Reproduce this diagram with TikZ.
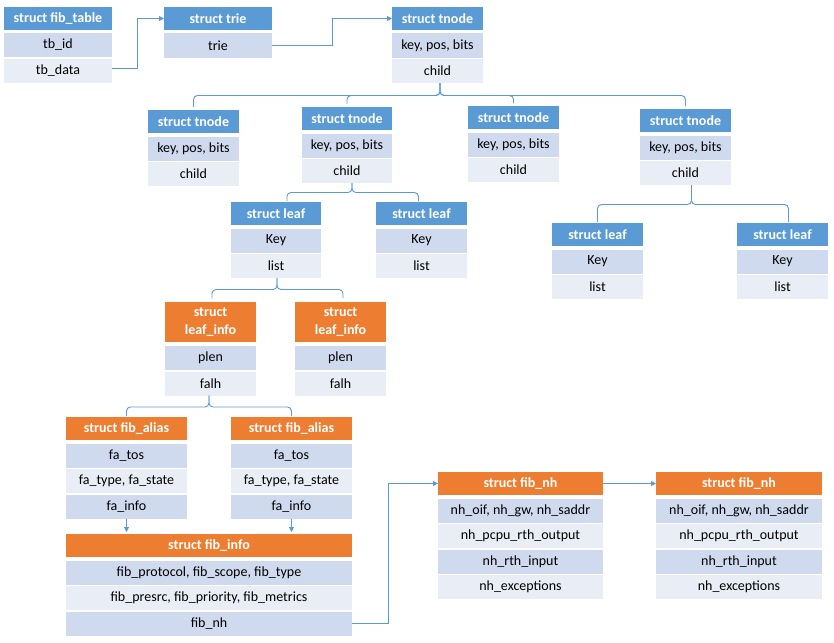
\documentclass[tikz,border=0pt]{standalone}
\usepackage{fontspec}
\setmainfont{Carlito}
\usetikzlibrary{arrows.meta}
\definecolor{cblue}{HTML}{5B9BD5}
\definecolor{corange}{HTML}{ED7D31}
\definecolor{rowd}{HTML}{D0DAEE}
\definecolor{rowl}{HTML}{E9EEF6}
\definecolor{cline}{HTML}{5B9BD5}
\begin{document}
\begin{tikzpicture}[x=1pt,y=-1pt,
  cellbase/.style={anchor=north west, inner sep=0pt, outer sep=0pt, font=\fontsize{14}{16}\selectfont, text=black},
  wd/.style={minimum width=#1pt},
  hb/.style={cellbase, fill=cblue, text=white, font=\bfseries\fontsize{14}{16}\selectfont, minimum height=23pt},
  ho/.style={cellbase, fill=corange, text=white, font=\bfseries\fontsize{14}{16}\selectfont, minimum height=23pt},
  ho2/.style={cellbase, fill=corange, text=white, font=\bfseries\fontsize{14}{18}\selectfont, minimum height=40pt, align=center},
  rd/.style={cellbase, fill=rowd, minimum height=24pt},
  rl/.style={cellbase, fill=rowl, minimum height=24pt},
  conn/.style={draw=cline, line width=0.9pt},
  arr/.style={conn, -{Triangle[length=5pt,width=5pt]}},
  brace/.style={conn, rounded corners=4pt}
]
\useasboundingbox (0,0) rectangle (834,642);
\fill[white] (0,0) rectangle (834,642);

% struct fib_table
\node[hb, wd=108] (fth) at (4,7) {struct fib\_table};
\node[rd, wd=108] (ft1) at ([yshift=-3pt]fth.south west) {tb\_id};
\node[rl, wd=108] (ft2) at ([yshift=-1.5pt]ft1.south west) {tb\_data};

% struct trie
\node[hb, wd=108] (trh) at (164,7) {struct trie};
\node[rd, wd=108] (tr1) at ([yshift=-3.5pt]trh.south west) {trie};

% top tnode
\node[hb, wd=91] (t0h) at (392,7) {struct tnode};
\node[rd, wd=91] (t01) at ([yshift=-3.5pt]t0h.south west) {key, pos, bits};
\node[rl, wd=91] (t0c) at ([yshift=-1.5pt]t01.south west) {child};

% second-level tnodes
\node[hb, wd=91] (tah) at (148,110) {struct tnode};
\node[rd, wd=91] (ta1) at ([yshift=-3.5pt]tah.south west) {key, pos, bits};
\node[rl, wd=91] (tac) at ([yshift=-1.5pt]ta1.south west) {child};

\node[hb, wd=90] (tbh) at (302,107) {struct tnode};
\node[rd, wd=90] (tb1) at ([yshift=-3.5pt]tbh.south west) {key, pos, bits};
\node[rl, wd=90] (tbc) at ([yshift=-1.5pt]tb1.south west) {child};

\node[hb, wd=91] (tch) at (468,106) {struct tnode};
\node[rd, wd=91] (tc1) at ([yshift=-3.5pt]tch.south west) {key, pos, bits};
\node[rl, wd=91] (tcc) at ([yshift=-1.5pt]tc1.south west) {child};

\node[hb, wd=91] (tdh) at (640,109) {struct tnode};
\node[rd, wd=91] (td1) at ([yshift=-3.5pt]tdh.south west) {key, pos, bits};
\node[rl, wd=91] (tdc) at ([yshift=-1.5pt]td1.south west) {child};

% leaves
\node[hb, wd=90] (l1h) at (231,202) {struct leaf};
\node[rd, wd=90] (l11) at ([yshift=-3.5pt]l1h.south west) {Key};
\node[rl, wd=90] (l1c) at ([yshift=-1.5pt]l11.south west) {list};

\node[hb, wd=91] (l2h) at (376,202) {struct leaf};
\node[rd, wd=91] (l21) at ([yshift=-3.5pt]l2h.south west) {Key};
\node[rl, wd=91] (l2c) at ([yshift=-1.5pt]l21.south west) {list};

\node[hb, wd=91] (l3h) at (552,223) {struct leaf};
\node[rd, wd=91] (l31) at ([yshift=-3.5pt]l3h.south west) {Key};
\node[rl, wd=91] (l3c) at ([yshift=-1.5pt]l31.south west) {list};

\node[hb, wd=91] (l4h) at (737,223) {struct leaf};
\node[rd, wd=91] (l41) at ([yshift=-3.5pt]l4h.south west) {Key};
\node[rl, wd=91] (l4c) at ([yshift=-1.5pt]l41.south west) {list};

% leaf_info
\node[ho2, wd=91] (i1h) at (165,302) {struct\\leaf\_info};
\node[rd, wd=91] (i11) at ([yshift=-4pt]i1h.south west) {plen};
\node[rl, wd=91] (i1c) at ([yshift=-1.5pt]i11.south west) {falh};

\node[ho2, wd=91] (i2h) at (295,302) {struct\\leaf\_info};
\node[rd, wd=91] (i21) at ([yshift=-4pt]i2h.south west) {plen};
\node[rl, wd=91] (i2c) at ([yshift=-1.5pt]i21.south west) {falh};

% fib_alias
\node[ho, wd=121] (a1h) at (66,417) {struct fib\_alias};
\node[rd, wd=121] (a11) at ([yshift=-3.5pt]a1h.south west) {fa\_tos};
\node[rl, wd=121] (a12) at ([yshift=-1.5pt]a11.south west) {fa\_type, fa\_state};
\node[rd, wd=121] (a13) at ([yshift=-1.5pt]a12.south west) {fa\_info};

\node[ho, wd=121] (a2h) at (231,417) {struct fib\_alias};
\node[rd, wd=121] (a21) at ([yshift=-3.5pt]a2h.south west) {fa\_tos};
\node[rl, wd=121] (a22) at ([yshift=-1.5pt]a21.south west) {fa\_type, fa\_state};
\node[rd, wd=121] (a23) at ([yshift=-1.5pt]a22.south west) {fa\_info};

% fib_info
\node[ho, wd=286] (fih) at (66,534) {struct fib\_info};
\node[rd, wd=286] (fi1) at ([yshift=-3.5pt]fih.south west) {fib\_protocol, fib\_scope, fib\_type};
\node[rl, wd=286] (fi2) at ([yshift=-1.5pt]fi1.south west) {fib\_presrc, fib\_priority, fib\_metrics};
\node[rd, wd=286] (fi3) at ([yshift=-1.5pt]fi2.south west) {fib\_nh};

% fib_nh
\node[ho, wd=165] (n1h) at (438,472) {struct fib\_nh};
\node[rd, wd=165] (n11) at ([yshift=-3.5pt]n1h.south west) {nh\_oif, nh\_gw, nh\_saddr};
\node[rl, wd=165] (n12) at ([yshift=-1.5pt]n11.south west) {nh\_pcpu\_rth\_output};
\node[rd, wd=165] (n13) at ([yshift=-1.5pt]n12.south west) {nh\_rth\_input};
\node[rl, wd=165] (n14) at ([yshift=-1.5pt]n13.south west) {nh\_exceptions};

\node[ho, wd=166] (n2h) at (656,472) {struct fib\_nh};
\node[rd, wd=166] (n21) at ([yshift=-3.5pt]n2h.south west) {nh\_oif, nh\_gw, nh\_saddr};
\node[rl, wd=166] (n22) at ([yshift=-1.5pt]n21.south west) {nh\_pcpu\_rth\_output};
\node[rd, wd=166] (n23) at ([yshift=-1.5pt]n22.south west) {nh\_rth\_input};
\node[rl, wd=166] (n24) at ([yshift=-1.5pt]n23.south west) {nh\_exceptions};

% arrows between top tables
\draw[arr] ([yshift=2pt]ft2.east) -- ++(25,0) |- (trh.west);
\draw[arr] (tr1.east) -- ++(60,0) |- (t0h.west);

% brace from top tnode
\foreach \c in {tah,tbh,tch,tdh}
  \draw[brace] ([xshift=2.5pt]t0c.south) -- ++(0,12.5) -| ([yshift=3pt]\c.north);

% braces to leaves
\draw[brace] ([xshift=5pt]tbc.south) -- ++(0,9.5) -| ([xshift=11pt,yshift=1pt]l1h.north);
\draw[brace] ([xshift=5pt]tbc.south) -- ++(0,9.5) -| ([xshift=-3pt,yshift=1pt]l2h.north);
\draw[brace] ([xshift=6pt]tdc.south) -- ++(0,19.5) -| ([yshift=1pt]l3h.north);
\draw[brace] ([xshift=6pt]tdc.south) -- ++(0,19.5) -| ([xshift=6pt,yshift=1pt]l4h.north);

% braces to leaf_info
\draw[brace] ([xshift=1pt]l1c.south) -- ++(0,11.5) -| ([xshift=1.5pt,yshift=4pt]i1h.north);
\draw[brace] ([xshift=1pt]l1c.south) -- ++(0,11.5) -| ([xshift=2.5pt,yshift=4pt]i2h.north);

% braces to fib_alias
\draw[brace] ([xshift=-1.5pt]i1c.south) -- ++(0,11.5) -| ([yshift=1pt]a1h.north);
\draw[brace] ([xshift=-1.5pt]i1c.south) -- ++(0,11.5) -| ([yshift=1pt]a2h.north);

% fa_info -> fib_info
\draw[arr, shorten >=2pt] (a13.south) -- (a13.south |- fih.north);
\draw[arr, shorten >=2pt] (a23.south) -- (a23.south |- fih.north);

% fib_nh arrows
\draw[arr] (fi3.east) -- ++(36,0) |- (n1h.west);
\draw[arr] (n1h.east) -- (n2h.west);
\end{tikzpicture}
\end{document}
